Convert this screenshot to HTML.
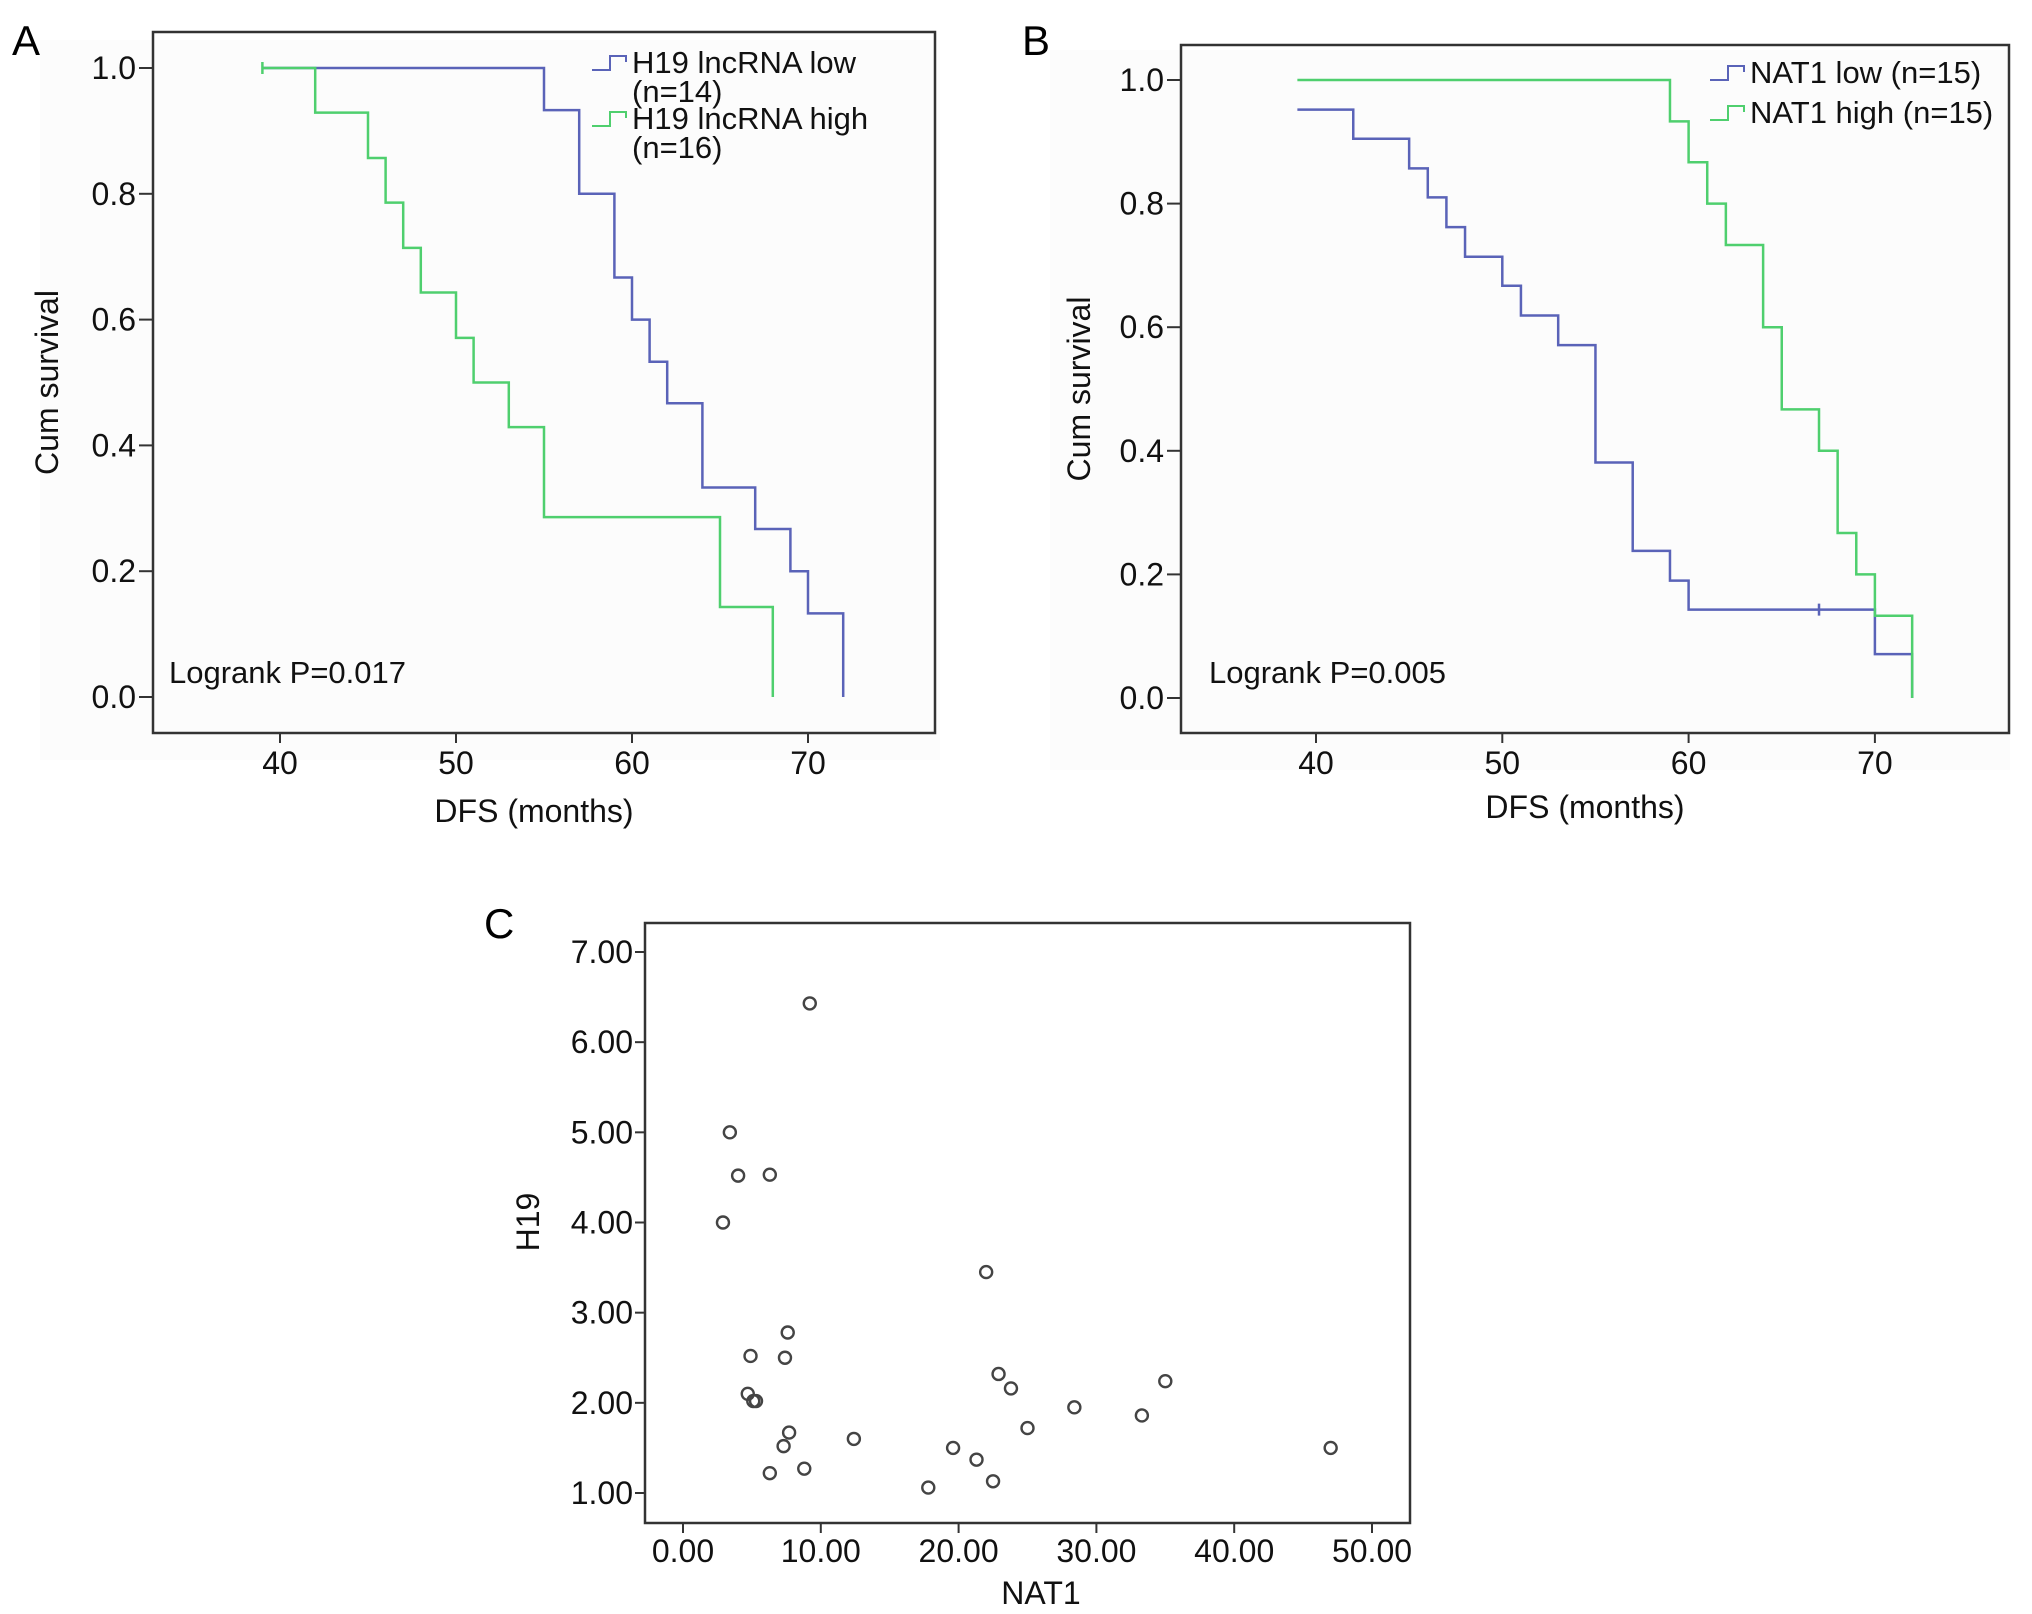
<!DOCTYPE html>
<html><head><meta charset="utf-8"><style>
html,body{margin:0;padding:0;background:#fff}
svg{display:block;font-family:"Liberation Sans",Arial,sans-serif}
</style></head><body>
<svg id="fig" width="2032" height="1614" viewBox="0 0 2032 1614" xmlns="http://www.w3.org/2000/svg">
<rect x="0" y="0" width="2032" height="1614" fill="#fff"/>
<rect x="40" y="40" width="900" height="720" fill="#fcfcfc"/>
<rect x="1050" y="50" width="960" height="720" fill="#fcfcfc"/>
<text x="12" y="55" font-size="42">A</text>
<text x="1022" y="55" font-size="42">B</text>
<text x="484" y="938" font-size="42">C</text>
<g id="pa"></g>
<g id="pb"></g>
<g id="pc"></g>
</svg>
<script>
// Panel A data
const aLowT = [39,55,57,59,60,61,62,64,67,69,70,72];
const aLowS = [1.0,0.933,0.8,0.667,0.6,0.533,0.467,0.333,0.267,0.2,0.133,0];
const aHighT = [39,42,45,46,47,48,50,51,53,55,65,68];
const aHighS = [1.0,0.929,0.857,0.786,0.714,0.643,0.571,0.5,0.429,0.286,0.143,0];
// Panel B data
const bLowT = [39,42,45,46,47,48,50,51,53,55,57,59,60,70,72];
const bLowS = [0.952,0.905,0.857,0.81,0.762,0.714,0.667,0.619,0.571,0.381,0.238,0.19,0.143,0.071,0];
const bHighT = [39,59,60,61,62,64,65,67,68,69,70,72];
const bHighS = [1.0,0.933,0.867,0.8,0.733,0.6,0.467,0.4,0.267,0.2,0.133,0];
const kmXTicks = [40,50,60,70];
const kmYTicks = [0,0.2,0.4,0.6,0.8,1.0];
// Panel C data
const nat1 = [9.2,3.4,4.0,6.3,2.9,22.0,7.6,4.9,7.4,22.9,23.8,35.0,4.7,5.1,5.3,28.4,33.3,25.0,7.7,12.4,7.3,19.6,47.0,21.3,8.8,6.3,22.5,17.8];
const h19 = [6.43,5.0,4.52,4.53,4.0,3.45,2.78,2.52,2.5,2.32,2.16,2.24,2.1,2.02,2.02,1.95,1.86,1.72,1.67,1.6,1.52,1.5,1.5,1.37,1.27,1.22,1.13,1.06];
const cXTicks = [0,10,20,30,40,50];
const cYTicks = [1,2,3,4,5,6,7];

const NS='http://www.w3.org/2000/svg';
function mk(parent,tag,attrs,text){const e=document.createElementNS(NS,tag);for(const k in attrs)e.setAttribute(k,attrs[k]);if(text!==undefined)e.textContent=text;parent.appendChild(e);return e;}
const BLUE='#5a63b8', GREEN='#4fcf6e', TXT='#111';

function kmPanel(g,box,xs,ys,series,yTitle,yTitleX,xTitleY,legend,logX){
  const X=v=>xs.a+(v-xs.v0)*xs.k, Y=v=>ys.a+(v-ys.v0)*ys.k;
  const r=mk(g,'rect',{x:box.l,y:box.t,width:box.r-box.l,height:box.b-box.t,fill:'none',stroke:'#333','stroke-width':2.5});
  
  
  kmXTicks.forEach(v=>{
    mk(g,'line',{x1:X(v),x2:X(v),y1:box.b,y2:box.b+10,stroke:'#333','stroke-width':2});
    const t=mk(g,'text',{x:X(v),y:box.b+41,'font-size':32,'text-anchor':'middle',fill:TXT},String(v));
    
    
  });
  kmYTicks.forEach(v=>{
    mk(g,'line',{x1:box.l-14,x2:box.l,y1:Y(v),y2:Y(v),stroke:'#333','stroke-width':2});
    const t=mk(g,'text',{x:box.l-17,y:Y(v)+11,'font-size':32,'text-anchor':'end',fill:TXT},v.toFixed(1));
    
    
  });
  series.forEach(s=>{
    let d='M'+X(s.t[0])+','+Y(s.s[0]);
    for(let i=1;i<s.t.length;i++){d+=' H'+X(s.t[i])+' V'+Y(s.s[i]);}
    const p=mk(g,'path',{d:d,fill:'none',stroke:s.c,'stroke-width':2.5});
    
    
    (s.cens||[]).forEach(c=>{mk(g,'line',{x1:X(c[0]),x2:X(c[0]),y1:Y(c[1])-6,y2:Y(c[1])+6,stroke:s.c,'stroke-width':2.5});});
  });
  const xt=mk(g,'text',{x:(box.l+box.r)/2-10,y:xTitleY,'font-size':32,'text-anchor':'middle',fill:TXT},'DFS (months)');
  
  
  const yt=mk(g,'text',{x:0,y:0,'font-size':32,'text-anchor':'middle',fill:TXT,transform:`translate(${yTitleX},${(box.t+box.b)/2}) rotate(-90)`},yTitle);
  
  
  legend.forEach(L=>{
    const lg=mk(g,'g',{});
    
    
    mk(lg,'path',{d:`M${L.x},${L.y+8} H${L.x+18} V${L.y-6} H${L.x+34} V${L.y}`,fill:'none',stroke:L.c,'stroke-width':2});
    L.lines.forEach((tx,i)=>mk(lg,'text',{x:L.x+40,y:L.y+11+i*29,'font-size':31,fill:TXT},tx));
  });
  const lt=mk(g,'text',{x:logX,y:box.b-50,'font-size':31,fill:TXT},legend.logrank);
  
  
}

const legA=[{x:592,y:62,c:BLUE,lines:['H19 lncRNA low','(n=14)']},{x:592,y:118,c:GREEN,lines:['H19 lncRNA high','(n=16)']}];
legA.logrank='Logrank P=0.017';
kmPanel(document.getElementById('pa'),{l:153,t:32,r:935,b:733},{a:280,v0:40,k:17.6},{a:697,v0:0,k:-629},
 [{t:aLowT,s:aLowS,c:BLUE,name:'h19-low-curve'},{t:aHighT,s:aHighS,c:GREEN,name:'h19-high-curve',cens:[[39,1.0]]}],
 'Cum survival',58,822,legA,169);

const legB=[{x:1710,y:72,c:BLUE,lines:['NAT1 low (n=15)']},{x:1710,y:112,c:GREEN,lines:['NAT1 high (n=15)']}];
legB.logrank='Logrank P=0.005';
kmPanel(document.getElementById('pb'),{l:1181,t:45,r:2009,b:733},{a:1316,v0:40,k:18.63},{a:698,v0:0,k:-618},
 [{t:bLowT,s:bLowS,c:BLUE,name:'nat1-low-curve',cens:[[67,0.143]]},{t:bHighT,s:bHighS,c:GREEN,name:'nat1-high-curve'}],
 'Cum survival',1090,818,legB,1209);

// Panel C scatter
(function(){
  const g=document.getElementById('pc');
  const box={l:645,t:923,r:1410,b:1523};
  const X=v=>683+v*(1372-683)/50, Y=v=>1493-(v-1)*(1493-952)/6;
  const r=mk(g,'rect',{x:box.l,y:box.t,width:box.r-box.l,height:box.b-box.t,fill:'none',stroke:'#333','stroke-width':2.5});
  
  
  cXTicks.forEach(v=>{
    mk(g,'line',{x1:X(v),x2:X(v),y1:box.b,y2:box.b+10,stroke:'#333','stroke-width':2});
    const t=mk(g,'text',{x:X(v),y:box.b+39,'font-size':32,'text-anchor':'middle',fill:TXT},v.toFixed(2));
    
    
  });
  cYTicks.forEach(v=>{
    mk(g,'line',{x1:box.l-10,x2:box.l,y1:Y(v),y2:Y(v),stroke:'#333','stroke-width':2});
    const t=mk(g,'text',{x:box.l-12,y:Y(v)+11,'font-size':32,'text-anchor':'end',fill:TXT},v.toFixed(2));
    
    
  });
  nat1.forEach((v,i)=>{
    const c=mk(g,'circle',{cx:X(v),cy:Y(h19[i]),r:6,fill:'none',stroke:'#444','stroke-width':2.4});
    
    
  });
  const xt=mk(g,'text',{x:1041,y:1604,'font-size':32,'text-anchor':'middle',fill:TXT},'NAT1');
  
  
  const yt=mk(g,'text',{x:0,y:0,'font-size':32,'text-anchor':'middle',fill:TXT,transform:'translate(539,1222) rotate(-90)'},'H19');
  
  
})();
</script>
</body></html>
